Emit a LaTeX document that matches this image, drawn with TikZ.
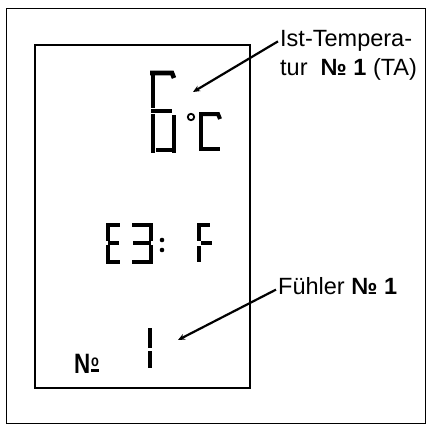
\documentclass[tikz,border=0pt]{standalone}
\usepackage{fontspec}
\setmainfont{Liberation Sans}
\usepackage{tikz}
\usetikzlibrary{arrows.meta,positioning}

\begin{document}
\begin{tikzpicture}[x=1pt,y=-1pt,
    seg/.style={line width=#1, line cap=butt},
    seg/.default=3.8pt,
    lbl/.style={anchor=base west, inner sep=2pt, font=\fontsize{23.5}{29}\selectfont},
    pointer/.style={-{Stealth[length=7pt,width=6pt]}, line width=2.2pt}]
      \useasboundingbox (0,0) rectangle (427,425);
      % frames
      \draw[line width=1pt] (6,9) rectangle (425,423);
      \draw[line width=1.2pt] (35,45) rectangle (250,388);
      % big 6 and degree C
      \draw[seg=4.6pt] (150,73) -- (172,73) -- (174,78);
      \draw[seg=4.6pt] (153,71) -- (153,108);
      \draw[seg=4.6pt] (151,111) -- (172,111);
      \draw[seg=4.6pt] (153,114) -- (153,153);
      \draw[seg=4.6pt] (156,150) -- (172,150);
      \draw[seg=4.6pt] (174,115) -- (174,153);
      \draw[line width=1.8pt] (191,117) circle (3.2);
      \draw[seg=4pt] (201,112) -- (201,151);
      \draw[seg=4pt] (199,114) -- (218,114) -- (220,119);
      \draw[seg=4pt] (203,149) -- (220,149);
      % E3: F
      \draw[seg] (108,223) -- (108,241);
      \draw[seg] (108,245) -- (108,264);
      \draw[seg] (106,225) -- (120,225);
      \draw[seg] (108,243) -- (119,243);
      \draw[seg] (110,262) -- (120,262);
      \draw[seg] (132,225) -- (149,225);
      \draw[seg] (133,243) -- (151,243);
      \draw[seg] (132,262) -- (149,262);
      \draw[seg] (151,223) -- (151,241);
      \draw[seg] (151,245) -- (151,264);
      \fill (162,240) circle (2.3) (162,250) circle (2.3);
      \draw[seg] (199,223) -- (199,241);
      \draw[seg] (199,246) -- (199,262);
      \draw[seg] (197,225) -- (210,225);
      \draw[seg] (201,243) -- (212,243);
      % sensor 1
      \draw[seg=4pt] (150,328) -- (150,348);
      \draw[seg=4pt] (150,351) -- (150,368);
      \node[anchor=base west, inner sep=0pt, xscale=0.8,
        font=\fontsize{28}{28}\bfseries\selectfont] (numlcd) at (74,373)
        {N\kern1pt\makebox[0pt][l]{\raisebox{7pt}{\fontsize{16}{16}\selectfont o}}\rule[1pt]{10pt}{2.6pt}};
      % labels
      \node[lbl] (ist1) at (278,47) {Ist-Tempera-};
      \node[lbl] (ist2) at (278,76) {tur \ \textbf{№ 1} (TA)};
      \node[lbl] (fuehler) at (276,294) {Fühler \textbf{№ 1}};
      \coordinate (tipT) at (193,92);
      \coordinate (tipF) at (178,340);
      \draw[pointer] (ist1.west) -- (tipT);
      \draw[pointer] ([yshift=-4pt]fuehler.west) -- (tipF);
    \end{tikzpicture}
\end{document}
